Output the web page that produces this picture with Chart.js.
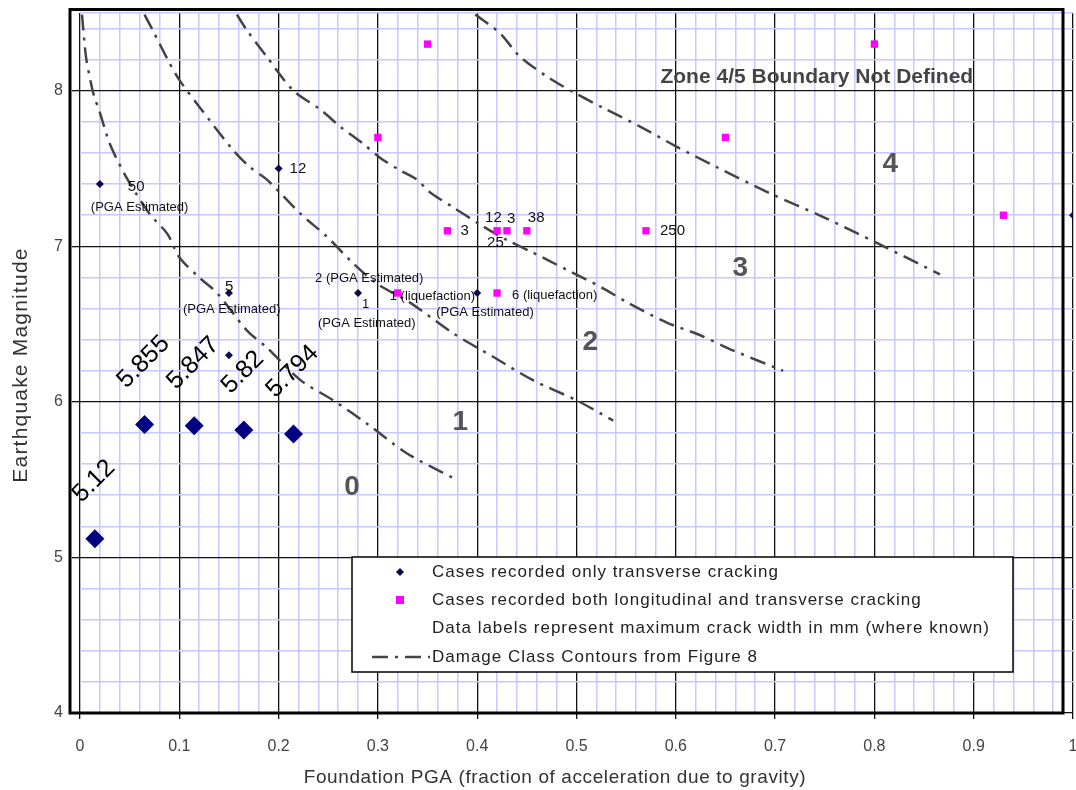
<!DOCTYPE html>
<html>
<head>
<meta charset="utf-8">
<title>Earthquake Magnitude vs Foundation PGA</title>
<script src="https://cdn.jsdelivr.net/npm/chart.js@4.4.1/dist/chart.umd.min.js"></script>
<style>
  html, body { margin: 0; padding: 0; background: #fff; }
  #wrap { width: 1076px; height: 790px; }
</style>
</head>
<body>
<div id="wrap"><canvas id="chart" width="1076" height="790"></canvas></div>
<script>
// cases with transverse cracking only
const transversePGA = [0.02, 0.2, 0.15, 0.28, 0.15, 0.4, 1.0];
const transverseMag = [7.4, 7.5, 6.7, 6.7, 6.3, 6.7, 7.2];
const transverseNotes = [["50", "(PGA Estimated)"], ["12"], ["5", "(PGA Estimated)"],
  ["2 (PGA Estimated)", "1", "(PGA Estimated)"], [], ["(PGA Estimated)"], []];

// cases with longitudinal and transverse cracking
const bothPGA = [0.35, 0.8, 0.3, 0.65, 0.37, 0.42, 0.43, 0.45, 0.57, 0.93, 0.32, 0.42];
const bothMag = [8.3, 8.3, 7.7, 7.7, 7.1, 7.1, 7.1, 7.1, 7.1, 7.2, 6.7, 6.7];
const bothNotes = [[], [], [], [], ["3"], ["12", "25"], ["3"], ["38"], ["250"], [],
  ["1 (liquefaction)"], ["6 (liquefaction)"]];

// added large markers
const addedPGA = [0.015, 0.065, 0.115, 0.165, 0.215];
const addedMag = [5.12, 5.855, 5.847, 5.82, 5.794];

// damage class contours (from Figure 8)
const contour01PGA = [0.002, 0.006, 0.011, 0.014, 0.020, 0.030, 0.047, 0.070, 0.088, 0.100, 0.120, 0.138, 0.168, 0.188, 0.222, 0.255, 0.289, 0.329, 0.376];
const contour01Mag = [8.49, 8.22, 8.05, 7.97, 7.86, 7.66, 7.44, 7.21, 7.08, 6.93, 6.80, 6.70, 6.46, 6.35, 6.14, 6.01, 5.86, 5.67, 5.51];
const contour12PGA = [0.065, 0.074, 0.090, 0.100, 0.121, 0.154, 0.171, 0.188, 0.222, 0.249, 0.272, 0.299, 0.332, 0.376, 0.416, 0.456, 0.500, 0.537];
const contour12Mag = [8.49, 8.38, 8.18, 8.07, 7.89, 7.62, 7.51, 7.43, 7.21, 7.06, 6.91, 6.76, 6.64, 6.44, 6.29, 6.14, 6.01, 5.88];
const contour23PGA = [0.158, 0.168, 0.188, 0.215, 0.242, 0.262, 0.285, 0.302, 0.322, 0.339, 0.352, 0.376, 0.403, 0.430, 0.456, 0.490, 0.524, 0.551, 0.591, 0.624, 0.658, 0.708];
const contour23Mag = [8.49, 8.39, 8.22, 8.00, 7.88, 7.77, 7.66, 7.57, 7.49, 7.43, 7.35, 7.25, 7.14, 7.04, 6.96, 6.85, 6.74, 6.64, 6.51, 6.43, 6.33, 6.20];
const contour34PGA = [0.398, 0.423, 0.443, 0.473, 0.500, 0.527, 0.564, 0.601, 0.641, 0.695, 0.748, 0.803, 0.866];
const contour34Mag = [8.49, 8.37, 8.22, 8.08, 7.98, 7.89, 7.77, 7.64, 7.51, 7.34, 7.19, 7.02, 6.82];

// zone labels
const zoneNames = ["0", "1", "2", "3", "4"];
const zonePGA = [0.274, 0.383, 0.514, 0.665, 0.816];
const zoneMag = [5.45, 5.87, 6.38, 6.86, 7.53];
const boundaryNote = "Zone 4/5 Boundary Not Defined";
const boundaryPGA = 0.742;
const boundaryMag = 8.09;

const xTitle = "Foundation PGA (fraction of acceleration due to gravity)";
const yTitle = "Earthquake Magnitude";
const legendTexts = [
  "Cases recorded only transverse cracking",
  "Cases recorded both longitudinal and transverse cracking",
  "Data labels represent maximum crack width in mm (where known)",
  "Damage Class Contours from Figure 8"
];

// pixel offsets of the note texts (left edge, middle), per point
const transverseNoteOffsets = [[[28, 3], [-9, 23]], [[11, 0]], [[-4, -6], [-46, 16]],
  [[-43, -15], [4, 11], [-40, 30]], [], [[-41, 19]], []];
const bothNoteOffsets = [[], [], [], [], [[13, 0]], [[-12, -13], [-10, 12]], [[0, -12]],
  [[1, -13]], [[14, 0]], [], [[-8, 3]], [[15, 2]]];

const xTickValues = [];
for (let i = 0; i <= 50; i++) xTickValues.push(i / 50);
const yTickValues = [];
for (let i = 0; i <= 22; i++) yTickValues.push(4 + i / 5);
yTickValues.push(8.5);

const toPoints = (xs, ys) => xs.map((x, i) => ({ x: x, y: ys[i] }));

const FONT = "'Liberation Sans', Arial, sans-serif";
Chart.defaults.font.family = FONT;
Chart.defaults.color = "#333";

const isMajor = (v, step) => Math.abs(v / step - Math.round(v / step)) < 1e-6;

const contourStyle = {
  type: "line",
  showLine: true,
  borderColor: "#444",
  borderWidth: 2.5,
  borderDash: [16, 7, 3, 7],
  pointRadius: 0,
  tension: 0.3,
  fill: false,
  order: 5
};

const notesPlugin = {
  id: "notes",
  afterDatasetsDraw(chart) {
    const { ctx, chartArea, scales } = chart;
    const xs = scales.x, ys = scales.y;
    ctx.save();
    // zone labels
    ctx.fillStyle = "#555";
    ctx.textAlign = "center";
    ctx.textBaseline = "middle";
    ctx.font = "bold 28px " + FONT;
    zoneNames.forEach((z, i) => {
      ctx.fillText(z, xs.getPixelForValue(zonePGA[i]), ys.getPixelForValue(zoneMag[i]));
    });
    ctx.font = "bold 21px " + FONT;
    ctx.fillStyle = "#444";
    ctx.fillText(boundaryNote, xs.getPixelForValue(boundaryPGA), ys.getPixelForValue(boundaryMag));

    // point notes
    ctx.textAlign = "left";
    ctx.fillStyle = "#111";
    const drawNotes = (px, py, notes, offsets) => {
      px.forEach((x, i) => {
        const cx = xs.getPixelForValue(x), cy = ys.getPixelForValue(py[i]);
        notes[i].forEach((t, j) => {
          ctx.font = (/^\d+$/.test(t) && t !== "1" ? "15px " : "13px ") + FONT;
          ctx.fillText(t, cx + offsets[i][j][0], cy + offsets[i][j][1]);
        });
      });
    };
    drawNotes(transversePGA, transverseMag, transverseNotes, transverseNoteOffsets);
    drawNotes(bothPGA, bothMag, bothNotes, bothNoteOffsets);

    // rotated value labels of the added markers
    ctx.font = "25px " + FONT;
    ctx.fillStyle = "#000";
    ctx.textAlign = "center";
    addedPGA.forEach((x, i) => {
      const t = String(addedMag[i]);
      const w = ctx.measureText(t).width;
      const h = (w + 18) * Math.SQRT1_2;
      const cx = xs.getPixelForValue(x) - 1;
      const cy = ys.getPixelForValue(addedMag[i]) - h / 2 - 34;
      ctx.save();
      ctx.translate(cx, cy);
      ctx.rotate(-Math.PI / 4);
      ctx.fillText(t, 0, 0);
      ctx.restore();
    });

    // legend box
    const L = chartArea.left + 272, T = chartArea.top + 544, W = 661, H = 115;
    ctx.fillStyle = "#fff";
    ctx.fillRect(L, T, W, H);
    ctx.strokeStyle = "#000";
    ctx.lineWidth = 1.5;
    ctx.strokeRect(L, T, W, H);
    const rows = [15, 43, 71, 100];
    ctx.textAlign = "left";
    ctx.font = "17px " + FONT;
    ctx.letterSpacing = "1px";
    ctx.fillStyle = "#222";
    legendTexts.forEach((t, i) => ctx.fillText(t, L + 80, T + rows[i]));
    ctx.letterSpacing = "0px";
    // markers
    ctx.fillStyle = "#0b0b4f";
    ctx.beginPath();
    const mx = L + 48, my = T + rows[0];
    ctx.moveTo(mx, my - 4); ctx.lineTo(mx + 4, my); ctx.lineTo(mx, my + 4); ctx.lineTo(mx - 4, my);
    ctx.closePath();
    ctx.fill();
    ctx.fillStyle = "#ff00ff";
    ctx.fillRect(L + 44, T + rows[1] - 4, 8, 8);
    ctx.strokeStyle = "#444";
    ctx.lineWidth = 2.5;
    ctx.setLineDash([16, 7, 3, 7]);
    ctx.beginPath();
    ctx.moveTo(L + 20, T + rows[3]);
    ctx.lineTo(L + 78, T + rows[3]);
    ctx.stroke();
    ctx.setLineDash([]);
    ctx.restore();
  },
  afterDraw(chart) {
    const { ctx, chartArea } = chart;
    ctx.save();
    ctx.strokeStyle = "#000";
    ctx.lineWidth = 3;
    ctx.strokeRect(chartArea.left - 10, chartArea.top - 3.5,
      chartArea.right - chartArea.left, chartArea.bottom - chartArea.top + 3.5);
    // axis titles
    ctx.fillStyle = "#333";
    ctx.textAlign = "center";
    ctx.textBaseline = "alphabetic";
    ctx.font = "19px " + FONT;
    ctx.letterSpacing = "0.6px";
    ctx.fillText(xTitle, chartArea.left + 475, chart.height - 7);
    ctx.font = "21px " + FONT;
    ctx.letterSpacing = "1.2px";
    ctx.textBaseline = "middle";
    ctx.translate(21, (chartArea.top + chartArea.bottom) / 2 + 2);
    ctx.rotate(-Math.PI / 2);
    ctx.fillText(yTitle, 0, 0);
    ctx.restore();
  }
};

new Chart(document.getElementById("chart"), {
  type: "scatter",
  data: {
    datasets: [
      {
        label: legendTexts[0],
        data: toPoints(transversePGA, transverseMag),
        pointStyle: "rectRot",
        pointRadius: 4,
        backgroundColor: "#0b0b4f",
        borderColor: "#0b0b4f",
        borderWidth: 0,
        order: 1
      },
      {
        label: legendTexts[1],
        data: toPoints(bothPGA, bothMag),
        pointStyle: "rect",
        pointRadius: 5.2,
        backgroundColor: "#ff00ff",
        borderColor: "#ff00ff",
        borderWidth: 0,
        order: 2
      },
      {
        label: "Added cases",
        data: toPoints(addedPGA, addedMag),
        pointStyle: "rectRot",
        pointRadius: 9.5,
        backgroundColor: "#000080",
        borderColor: "#000080",
        borderWidth: 0,
        order: 0
      },
      Object.assign({ label: legendTexts[3], data: toPoints(contour01PGA, contour01Mag) }, contourStyle),
      Object.assign({ label: "contour 1/2", data: toPoints(contour12PGA, contour12Mag) }, contourStyle),
      Object.assign({ label: "contour 2/3", data: toPoints(contour23PGA, contour23Mag) }, contourStyle),
      Object.assign({ label: "contour 3/4", data: toPoints(contour34PGA, contour34Mag) }, contourStyle)
    ]
  },
  options: {
    responsive: false,
    animation: false,
    devicePixelRatio: 1,
    layout: { autoPadding: false, padding: { top: 13, right: 3, left: 0, bottom: 0 } },
    plugins: {
      legend: { display: false },
      tooltip: { enabled: false }
    },
    scales: {
      x: {
        type: "linear",
        min: 0,
        max: 1,
        afterBuildTicks: (s) => { s.ticks = xTickValues.map((v) => ({ value: v })); },
        afterFit: (s) => { s.height = 77; s.paddingLeft = 0; s.paddingRight = 0; },
        ticks: {
          autoSkip: false,
          maxRotation: 0,
          padding: 18,
          color: "#444",
          font: { size: 16 },
          callback: (v) => (isMajor(v, 0.1) ? String(Math.round(v * 10) / 10) : "")
        },
        grid: {
          tickLength: 6,
          color: (c) => (isMajor(c.tick.value, 0.1) ? "#111" : "#c8c8ff"),
          lineWidth: (c) => (isMajor(c.tick.value, 0.1) ? 1.3 : 1.5),
          tickColor: (c) => (isMajor(c.tick.value, 0.1) ? "#111" : "rgba(0,0,0,0)")
        },
        border: { display: false },
        title: { display: false }
      },
      y: {
        type: "linear",
        min: 4,
        max: 8.5,
        afterBuildTicks: (s) => { s.ticks = yTickValues.map((v) => ({ value: v })); },
        afterFit: (s) => { s.width = 80; s.paddingTop = 0; s.paddingBottom = 0; },
        ticks: {
          autoSkip: false,
          padding: 9,
          color: "#444",
          font: { size: 16 },
          callback: (v) => (isMajor(v, 1) ? String(Math.round(v)) : "")
        },
        grid: {
          tickLength: 8,
          color: (c) => (isMajor(c.tick.value, 1) ? "#111" : "#c8c8ff"),
          lineWidth: (c) => (isMajor(c.tick.value, 1) ? 1.3 : 1.5),
          tickColor: (c) => (isMajor(c.tick.value, 1) ? "#111" : "rgba(0,0,0,0)")
        },
        border: { display: false },
        title: { display: false }
      }
    }
  },
  plugins: [notesPlugin]
});
</script>
</body>
</html>
